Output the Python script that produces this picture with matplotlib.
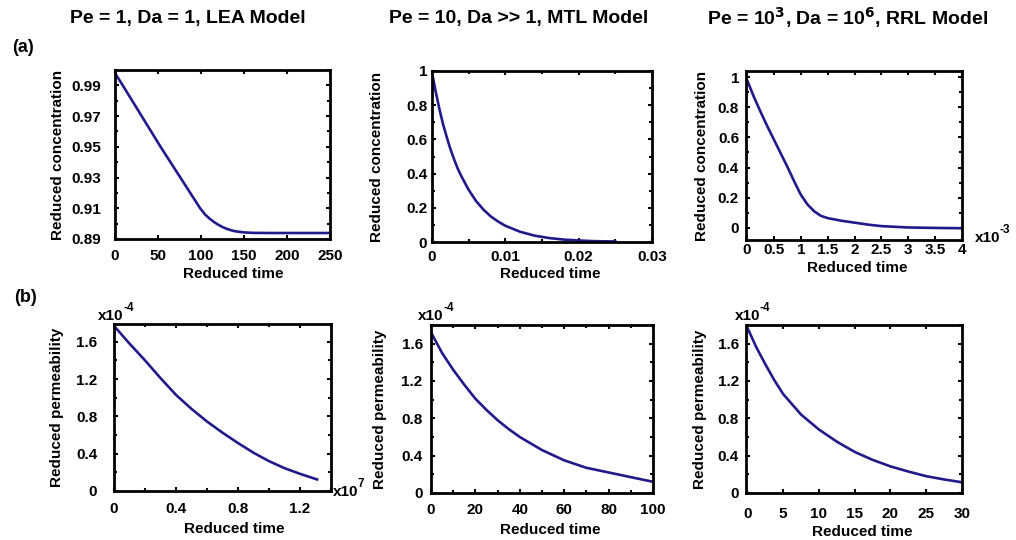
import numpy as np
import matplotlib.pyplot as plt
from matplotlib.ticker import MultipleLocator, FuncFormatter

plt.rcParams['font.family'] = ['Liberation Sans', 'DejaVu Sans']
plt.rcParams['font.weight'] = 'bold'
plt.rcParams['mathtext.default'] = 'bf'

# (a) concentration curves
t_lea = [0, 9, 31, 53, 76, 99, 105, 110, 115, 120, 125, 130, 135, 140, 150, 160, 180, 250]
c_lea = [0.998, 0.99, 0.97, 0.95, 0.93, 0.91, 0.9058, 0.9033, 0.9011, 0.8993, 0.8978, 0.8966,
         0.8957, 0.8950, 0.8943, 0.8940, 0.8939, 0.8939]

t_mtl = [0, 0.0005, 0.001, 0.0015, 0.002, 0.0025, 0.003, 0.0035, 0.004, 0.005, 0.006, 0.007,
         0.008, 0.009, 0.010, 0.012, 0.014, 0.016, 0.018, 0.020, 0.022, 0.025]
c_mtl = [0.99, 0.88, 0.78, 0.69, 0.615, 0.545, 0.485, 0.43, 0.385, 0.305, 0.24, 0.19,
         0.15, 0.12, 0.095, 0.06, 0.037, 0.023, 0.014, 0.009, 0.005, 0.003]

t_rrl = [0, 0.125, 0.25, 0.375, 0.5, 0.625, 0.75, 0.875, 1.0, 1.125, 1.25, 1.375, 1.5,
         1.75, 2.0, 2.25, 2.5, 3.0, 3.5, 4.0]  # x1e-3
c_rrl = [0.98, 0.87, 0.77, 0.675, 0.585, 0.495, 0.405, 0.31, 0.22, 0.155, 0.11, 0.08, 0.065,
         0.048, 0.035, 0.022, 0.012, 0.003, 0.0, -0.002]

# (b) permeability curves (x1e-4)
t_lea_k = [0, 0.1, 0.2, 0.3, 0.4, 0.5, 0.6, 0.7, 0.8, 0.9, 1.0, 1.1, 1.2, 1.31]  # x1e7
k_lea = [1.77, 1.58, 1.40, 1.21, 1.03, 0.88, 0.745, 0.625, 0.514, 0.41, 0.32, 0.245, 0.184, 0.124]

t_mtl_k = [0, 5, 10, 15, 20, 25, 30, 35, 40, 50, 60, 70, 80, 90, 100]
k_mtl = [1.72, 1.50, 1.32, 1.16, 1.01, 0.89, 0.78, 0.685, 0.60, 0.46, 0.35, 0.27, 0.22, 0.17, 0.12]

t_rrl_k = [0, 1.25, 2.5, 3.75, 5, 7.5, 10, 12.5, 15, 17.5, 20, 22.5, 25, 27.5, 30]
k_rrl = [1.77, 1.56, 1.38, 1.21, 1.06, 0.84, 0.68, 0.55, 0.44, 0.355, 0.285, 0.23, 0.18, 0.145, 0.115]

titles = ['Pe = 1, Da = 1, LEA Model', 'Pe = 10, Da >> 1, MTL Model',
          r'Pe = 10$^{3}$, Da = 10$^{6}$, RRL Model']

line_color = '#221a8a'
fmt = FuncFormatter(lambda v, p: '%g' % round(v, 6))

W, H = 1016, 540
fig = plt.figure(figsize=(W / 100, H / 100), dpi=100)


def fx(px):
    return px / W


def fy(py):
    return 1 - py / H


def style(ax, xmaj, xmin, ymaj, ymin, xpad, ypad):
    ax.xaxis.set_major_locator(MultipleLocator(xmaj))
    ax.xaxis.set_minor_locator(MultipleLocator(xmin))
    ax.yaxis.set_major_locator(MultipleLocator(ymaj))
    ax.yaxis.set_minor_locator(MultipleLocator(ymin))
    ax.xaxis.set_major_formatter(fmt)
    ax.yaxis.set_major_formatter(fmt)
    ax.tick_params(which='both', direction='in', top=True, right=True,
                   width=1.5, labelsize=11)
    ax.tick_params(axis='x', which='major', pad=xpad)
    ax.tick_params(axis='y', which='major', pad=ypad)
    ax.tick_params(which='major', length=3)
    ax.tick_params(which='minor', length=2.5)
    for s in ax.spines.values():
        s.set_linewidth(2)
    for lab in ax.get_xticklabels() + ax.get_yticklabels():
        lab.set_fontweight('bold')


def multiplier(px, py, expo):
    # "x10" with a raised exponent, placed in figure pixels
    fig.text(fx(px), fy(py), 'x10', fontsize=11, fontweight='bold', va='center')
    fig.text(fx(px + 25), fy(py - 8), expo, fontsize=8.5, fontweight='bold', va='center')


# panel boxes in pixels: left, top, right, bottom
boxes = [
    (115, 70, 330, 239),
    (432, 71, 652, 242),
    (746, 71, 962, 240),
    (114, 324, 331, 491),
    (431, 325, 653, 493),
    (746, 325, 962, 493),
]
axs = [fig.add_axes([fx(l), fy(b), (r - l) / W, (b - t) / H]) for l, t, r, b in boxes]

ax = axs[0]
ax.plot(t_lea, c_lea, color=line_color, lw=1.9)
ax.set_xlim(0, 250)
ax.set_ylim(0.89, 1.0)
style(ax, 50, 50, 0.02, 0.01, 7, 10)
ax.set_yticks([0.89, 0.91, 0.93, 0.95, 0.97, 0.99])

ax = axs[1]
ax.plot(t_mtl, c_mtl, color=line_color, lw=1.9)
ax.set_xlim(0, 0.03)
ax.set_ylim(0, 1)
style(ax, 0.01, 0.005, 0.2, 0.1, 6, 3.5)

ax = axs[2]
ax.plot(t_rrl, c_rrl, color=line_color, lw=1.9)
ax.set_xlim(-0.02, 4.0)
ax.set_ylim(-0.08, 1.04)
style(ax, 0.5, 0.5, 0.2, 0.1, 2.5, 5)

ax = axs[3]
ax.plot(t_lea_k, k_lea, color=line_color, lw=1.9)
ax.set_xlim(0, 1.4)
ax.set_ylim(0, 1.79)
style(ax, 0.4, 0.2, 0.4, 0.2, 8, 12)

ax = axs[4]
ax.plot(t_mtl_k, k_mtl, color=line_color, lw=1.9)
ax.set_xlim(0, 100)
ax.set_ylim(0, 1.8)
style(ax, 20, 10, 0.4, 0.2, 7, 6)

ax = axs[5]
ax.plot(t_rrl_k, k_rrl, color=line_color, lw=1.9)
ax.set_xlim(-0.2, 30)
ax.set_ylim(0, 1.8)
style(ax, 5, 5, 0.4, 0.2, 10, 5)

xlab_pos = [(233, 274), (550, 274), (857, 268), (234, 529), (550, 530), (862, 532)]
ylab_x = [58, 377, 702, 57, 380, 700]
for i, ax in enumerate(axs):
    ax.set_xlabel('Reduced time', fontsize=11, fontweight='bold', va='center')
    ax.xaxis.set_label_coords(fx(xlab_pos[i][0]), fy(xlab_pos[i][1]), transform=fig.transFigure)
    ylab = 'Reduced concentration' if i < 3 else 'Reduced permeability'
    ax.set_ylabel(ylab, fontsize=11, fontweight='bold', va='center')
    l, t, r, b = boxes[i]
    ax.yaxis.set_label_coords(fx(ylab_x[i]), fy((t + b) / 2), transform=fig.transFigure)

# axis multipliers
multiplier(975, 238, '-3')
multiplier(333, 492, '7')
for px in [98, 418, 735]:
    multiplier(px, 316, '-4')

title_x = [188, 519, 848]
for tx, tt in zip(title_x, titles):
    fig.text(fx(tx), fy(18), tt, fontsize=14, fontweight='bold', ha='center', va='center')

fig.text(fx(12), fy(47), '(a)', fontsize=13, fontweight='bold', va='center')
fig.text(fx(14), fy(297), '(b)', fontsize=13, fontweight='bold', va='center')

fig.savefig('out.png', dpi=100)
